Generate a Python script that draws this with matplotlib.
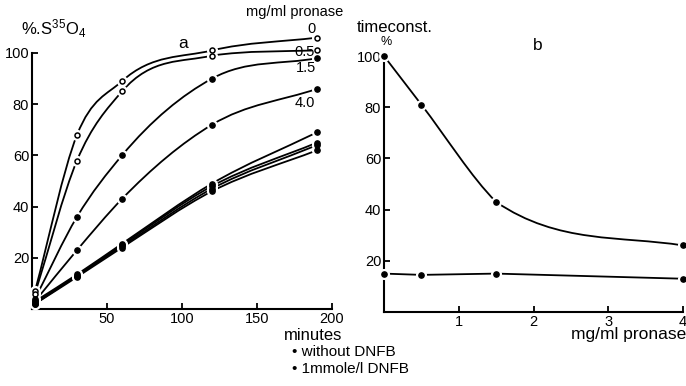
import numpy as np
import matplotlib.pyplot as plt
from matplotlib.path import Path
from matplotlib.patches import PathPatch

plt.rcParams['font.family'] = ['Liberation Sans', 'DejaVu Sans']
plt.rcParams['mathtext.fontset'] = 'custom'
plt.rcParams['mathtext.rm'] = 'Liberation Sans'
plt.rcParams['mathtext.it'] = 'Liberation Sans'

# Panel a: % S35O4 released vs minutes, for several pronase concentrations
minutes = [2, 30, 60, 120, 190]
pron_0 = [7, 68, 89, 101, 106]
pron_05 = [6, 58, 85, 99, 101]
pron_15 = [4, 36, 60, 90, 98]
pron_40 = [3, 23, 43, 72, 86]
# same with 1 mmole/l DNFB
dnfb_0 = [3, 13.5, 25.5, 49, 69]
dnfb_05 = [2.5, 13, 25, 48, 65]
dnfb_15 = [2, 13, 24.5, 47, 64]
dnfb_40 = [2, 12.5, 24, 46, 62]

# Panel b: time constant (%) vs mg/ml pronase
pronase = [0, 0.5, 1.5, 4]
tc_without = [100, 81, 43, 26]
tc_dnfb = [15, 14.5, 15, 13]

W, H = 686, 386


def smooth_path(ax, x, y, lw=1.3):
    # cubic Bezier through the measured points, 3-point tangents,
    # limited per segment so the curve stays monotone
    x = np.asarray(x, float)
    y = np.asarray(y, float)
    n = len(x)
    h = np.diff(x)
    d = np.diff(y) / h
    m = np.zeros(n)
    m[0], m[-1] = d[0], d[-1]
    for i in range(1, n - 1):
        m[i] = (h[i] * d[i - 1] + h[i - 1] * d[i]) / (h[i - 1] + h[i])
    verts = [(x[0], y[0])]
    codes = [Path.MOVETO]
    for i in range(n - 1):
        ma, mb = m[i], m[i + 1]
        if d[i] != 0:
            a, b = ma / d[i], mb / d[i]
            r = np.hypot(a, b)
            if r > 3:
                ma, mb = ma * 3 / r, mb * 3 / r
        verts += [(x[i] + h[i] / 3, y[i] + ma * h[i] / 3),
                  (x[i + 1] - h[i] / 3, y[i + 1] - mb * h[i] / 3),
                  (x[i + 1], y[i + 1])]
        codes += [Path.CURVE4] * 3
    ax.add_patch(PathPatch(Path(verts, codes), fill=False, color='black',
                           lw=lw, clip_on=False, zorder=2))


def marks(ax, x, y, hollow=False):
    ax.plot(x, y, 'o', ms=7, color='white', clip_on=False, zorder=3)
    if hollow:
        ax.plot(x, y, 'o', ms=3.6, mfc='white', mec='black', mew=1.1,
                clip_on=False, zorder=4)
    else:
        ax.plot(x, y, 'o', ms=3.8, color='black', clip_on=False, zorder=4)


def style(ax):
    for s in ['top', 'right']:
        ax.spines[s].set_visible(False)
    for s in ['left', 'bottom']:
        ax.spines[s].set_linewidth(1.5)
    ax.tick_params(direction='in', length=4, width=1.3, labelsize=10.5, pad=2)


fig = plt.figure(figsize=(W / 100, H / 100), dpi=100)

# ---- panel a
ax1 = fig.add_axes([32 / W, 1 - 309 / H, 300 / W, 256 / H])
style(ax1)
ax1.set_xlim(0, 200)
ax1.set_ylim(0, 100)
ax1.set_xticks([50, 100, 150, 200])
ax1.set_yticks([20, 40, 60, 80, 100])

curves_a = [(pron_0, True), (pron_05, True), (pron_15, False),
            (pron_40, False), (dnfb_0, False), (dnfb_05, False),
            (dnfb_15, False), (dnfb_40, False)]
for series, hollow in curves_a:
    smooth_path(ax1, minutes, series)
for series, hollow in curves_a:
    marks(ax1, minutes, series, hollow)

# ---- panel b
ax2 = fig.add_axes([384 / W, 1 - 312 / H, 299 / W, 256 / H])
style(ax2)
ax2.set_xlim(0, 4)
ax2.set_ylim(0, 100)
ax2.set_xticks([1, 2, 3, 4])
ax2.set_yticks([20, 40, 60, 80, 100])
smooth_path(ax2, pronase, tc_without)
ax2.plot(pronase, tc_dnfb, color='black', lw=1.3, zorder=2, clip_on=False)
marks(ax2, pronase, tc_without)
marks(ax2, pronase, tc_dnfb)


def ftext(x, y, s, **kw):
    fig.text(x / W, 1 - y / H, s, va='center', **kw)


ftext(21, 29, '%.S$^{35}$O$_4$', fontsize=12)
ftext(183, 44, 'a', fontsize=12.5, ha='center')
ftext(343, 12, 'mg/ml pronase', fontsize=10.5, ha='right')
ftext(312, 29, '0', fontsize=10.5, ha='center')
ftext(305, 52, '0.5', fontsize=10.5, ha='center')
ftext(306, 68, '1.5', fontsize=10.5, ha='center')
ftext(305, 103, '4.0', fontsize=10.5, ha='center')
ftext(342, 335, 'minutes', fontsize=12, ha='right')
ftext(292, 352, '• without DNFB', fontsize=11)
ftext(292, 369, '• 1mmole/l DNFB', fontsize=11)

ftext(357, 28, 'timeconst.', fontsize=12)
ftext(386, 42, '%', fontsize=9, ha='center')
ftext(538, 45, 'b', fontsize=12.5, ha='center')
ftext(686, 335, 'mg/ml pronase', fontsize=12.5, ha='right')

fig.savefig('out.png', dpi=100)
